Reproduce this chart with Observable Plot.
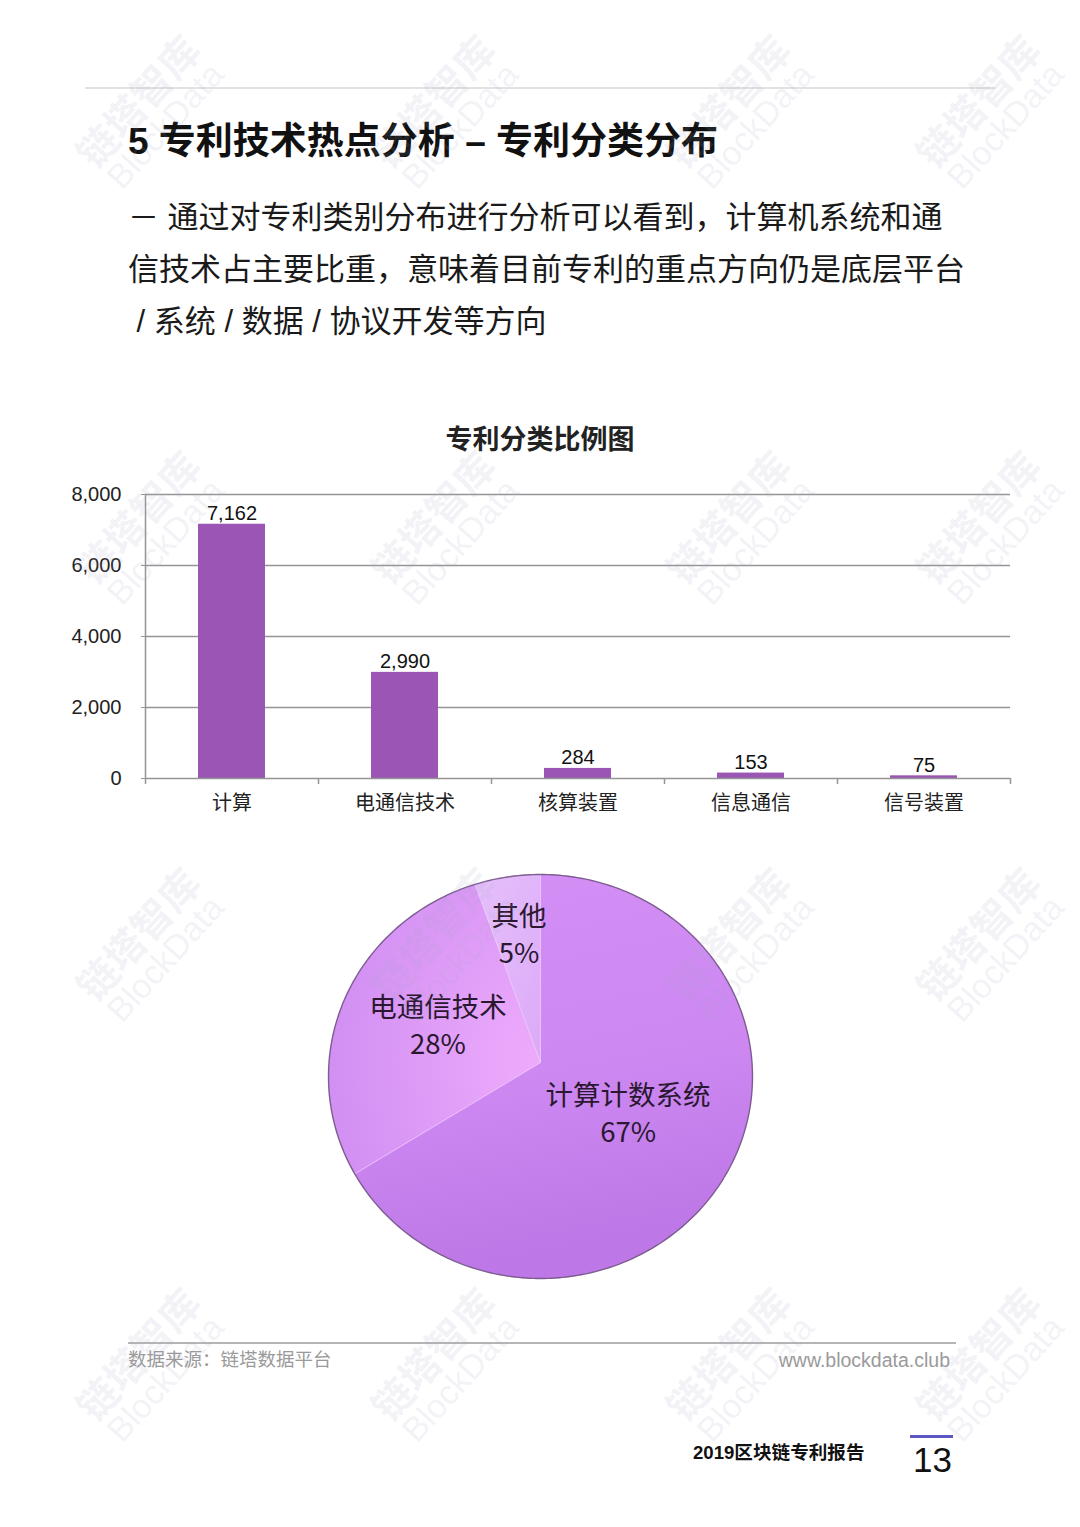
<!DOCTYPE html>
<html>
<head>
<meta charset="utf-8">
<script src="https://cdn.jsdelivr.net/npm/d3@7"></script>
<script src="https://cdn.jsdelivr.net/npm/@observablehq/plot@0.6"></script>
<style>
  html, body { margin: 0; padding: 0; background: #fff; }
  body { width: 1080px; height: 1527px; position: relative; overflow: hidden;
         font-family: "Liberation Sans", "Noto Sans CJK SC", sans-serif; color: #111; }
  .abs { position: absolute; white-space: nowrap; }
  #topline { left: 85px; top: 87px; width: 910px; height: 2px; background: #e2e2e2; }
  #title { left: 128px; top: 123px; font-size: 37px; line-height: 37px; font-weight: 700; color: #111; }
  .sub { left: 128px; font-size: 31px; line-height: 52px; color: #1a1a1a; }
  #ctitle { left: 0; width: 1080px; text-align: center; top: 426px; font-size: 27px; line-height: 28px; font-weight: 700; color: #222; }
  #bars { left: 0; top: 470px; }
  #pie { left: 0; top: 850px; }
  #footline { left: 128px; top: 1342px; width: 828px; height: 1.5px; background: #b5b5b5; }
  #source { left: 128px; top: 1348px; font-size: 18.5px; line-height: 24px; color: #9a9a9a; }
  #site { right: 130px; top: 1348px; font-size: 19.5px; line-height: 24px; color: #9a9a9a; }
  #report { left: 693px; top: 1441px; font-size: 18.6px; line-height: 24px; font-weight: 700; color: #111; }
  #pageline { left: 910px; top: 1435px; width: 43px; height: 3px; background: #5b58c4; }
  #pagenum { left: 913px; top: 1441px; font-size: 35px; line-height: 38px; color: #111; font-family: "Liberation Sans", sans-serif; }
  .wm { position: absolute; transform: translate(-50%, -50%) rotate(-48deg); text-align: center;
        color: rgba(160,165,195,0.15); font-weight: 700; line-height: 1.05; pointer-events: none; white-space: nowrap; }
  .wm .a { font-size: 40px; font-family: "Noto Sans CJK SC", sans-serif; }
  .wm .b { font-size: 34px; font-weight: 400; }
</style>
</head>
<body>
<div id="topline" class="abs"></div>
<div id="title" class="abs">5 专利技术热点分析 – 专利分类分布</div>
<div class="abs sub" style="top:192px">－ 通过对专利类别分布进行分析可以看到，计算机系统和通</div>
<div class="abs sub" style="top:244px">信技术占主要比重，意味着目前专利的重点方向仍是底层平台</div>
<div class="abs sub" style="top:296px">&nbsp;/ 系统 / 数据 / 协议开发等方向</div>
<div id="ctitle" class="abs">专利分类比例图</div>
<div id="bars" class="abs"></div>
<div id="pie" class="abs"></div>
<div id="footline" class="abs"></div>
<div id="source" class="abs">数据来源：链塔数据平台</div>
<div id="site" class="abs">www.blockdata.club</div>
<div id="report" class="abs">2019区块链专利报告</div>
<div id="pageline" class="abs"></div>
<div id="pagenum" class="abs">13</div>
<div id="wms"></div>
<script>
// ---- data ----
const categories = ["计算", "电通信技术", "核算装置", "信息通信", "信号装置"];
const counts = [7162, 2990, 284, 153, 75];
const yTicks = [0, 2000, 4000, 6000, 8000];
const pieLabels = ["计算计数系统", "电通信技术", "其他"];
const pieShares = [67, 28, 5];

const FONT = '"Liberation Sans", "Noto Sans CJK SC", sans-serif';

// ---- bar chart ----
const barData = categories.map((c, i) => ({cat: c, value: counts[i]}));
const plotLeft = 145, plotRight = 1010;
const step = (plotRight - plotLeft) / categories.length;
const grey = "#959595";

const bars = Plot.plot({
  width: 1080, height: 364,
  marginLeft: plotLeft, marginRight: 1080 - plotRight, marginTop: 24, marginBottom: 56,
  style: {fontFamily: FONT, fontSize: "20px", color: "#111", background: "transparent", overflow: "visible"},
  x: {domain: categories, paddingInner: 0.61, paddingOuter: 0.305, label: null},
  y: {domain: [0, 8000], label: null},
  marks: [
    Plot.ruleY(yTicks.filter(t => t > 0), {stroke: grey, strokeWidth: 1.3}),
    Plot.barY(barData, {x: "cat", y: "value", fill: "#9b55b4"}),
    Plot.ruleY([0], {stroke: grey, strokeWidth: 1.5}),
    Plot.ruleX([categories[0]], {y1: 0, y2: 8000, dx: -step / 2, stroke: grey, strokeWidth: 1.5}),
    Plot.ruleX(categories, {y1: 0, y2: 0, dx: -step / 2, insetBottom: -6, stroke: grey, strokeWidth: 1.5}),
    Plot.ruleX([categories[categories.length - 1]], {y1: 0, y2: 0, dx: step / 2, insetBottom: -6, stroke: grey, strokeWidth: 1.5}),
    Plot.text(barData, {x: "cat", y: "value", text: d => d3.format(",")(d.value), lineAnchor: "bottom", dy: -4, fontSize: 20, fill: "#111"}),
    Plot.axisX({tickSize: 0, tickPadding: 17, fontSize: 20, fill: "#222"}),
    Plot.axisY({ticks: yTicks, tickSize: 4, tickPadding: 20, tickFormat: d3.format(","), fontSize: 20, stroke: grey, fill: "#222"})
  ]
});
document.getElementById("bars").append(bars);

// ---- pie chart ----
const arcs = d3.pie().sort(null).value(d => d)(pieShares);
const vertexY = 0.069; // slice vertex sits slightly above the ellipse centre (tilted look)
const labelRadii = [0.48, 0.52, 0.65];
function slicePoints(a, key) {
  const pts = [{x: 0, y: vertexY, key}];
  const n = Math.max(4, Math.ceil((a.endAngle - a.startAngle) / 0.02));
  for (let k = 0; k <= n; k++) {
    const t = a.startAngle + (a.endAngle - a.startAngle) * k / n;
    pts.push({x: Math.sin(t), y: Math.cos(t), key});
  }
  pts.push({x: 0, y: vertexY, key});
  return pts;
}
const outline = d3.range(0, 361).map(d => ({x: Math.sin(d * Math.PI / 180), y: Math.cos(d * Math.PI / 180)}));
const labelData = arcs.map((a, i) => {
  const m = (a.startAngle + a.endAngle) / 2;
  return {x: Math.sin(m) * labelRadii[i], y: vertexY + Math.cos(m) * labelRadii[i], text: `${pieLabels[i]}\n${pieShares[i]}%`};
});
const gradIds = ["pg0", "pg1", "pg2"];

const pie = Plot.plot({
  width: 1080, height: 450,
  marginLeft: 328, marginRight: 328, marginTop: 24, marginBottom: 22,
  style: {fontFamily: FONT, background: "transparent", overflow: "visible"},
  x: {domain: [-1, 1], axis: null},
  y: {domain: [-1, 1], axis: null},
  marks: [
    ...arcs.map((a, i) => Plot.line(slicePoints(a, pieLabels[i]), {x: "x", y: "y", fill: `url(#${gradIds[i]})`, stroke: "#ecc8fb", strokeWidth: 1, strokeOpacity: 0.6})),
    Plot.line(outline, {x: "x", y: "y", stroke: "#6a4a7e", strokeWidth: 1.4, strokeOpacity: 0.85}),
    Plot.text(labelData, {x: "x", y: "y", text: "text", fontSize: 27.5, lineHeight: 1.35, fill: "#2a1830", fontFamily: '"Noto Sans CJK SC", sans-serif'})
  ]
});
const NS = "http://www.w3.org/2000/svg";
const defs = document.createElementNS(NS, "defs");
function grad(id, type, attrs, stops) {
  const g = document.createElementNS(NS, type);
  g.setAttribute("id", id);
  for (const [k, v] of Object.entries(attrs)) g.setAttribute(k, v);
  for (const [o, c] of stops) {
    const s = document.createElementNS(NS, "stop");
    s.setAttribute("offset", o); s.setAttribute("stop-color", c);
    g.append(s);
  }
  defs.append(g);
}
grad("pg0", "linearGradient", {x1: 0, y1: 0, x2: 0.2, y2: 1}, [["0", "#d590f6"], ["0.6", "#cc87f1"], ["1", "#bd77e6"]]);
grad("pg1", "radialGradient", {cx: 0.98, cy: 0.62, r: 0.95}, [["0", "#eeabfc"], ["1", "#d290f3"]]);
grad("pg2", "linearGradient", {x1: 0, y1: 0, x2: 1, y2: 1}, [["0", "#e6c0fb"], ["1", "#dcaaf8"]]);
pie.prepend(defs);
document.getElementById("pie").append(pie);

// ---- watermarks ----
const wmCols = [150, 445, 740, 990];
const wmRows = [112, 528, 945, 1365];
const wms = document.getElementById("wms");
for (const y of wmRows) for (const x of wmCols) {
  const d = document.createElement("div");
  d.className = "wm";
  d.style.left = x + "px"; d.style.top = y + "px";
  d.innerHTML = '<div class="a">链塔智库</div><div class="b">BlockData</div>';
  wms.append(d);
}
</script>
</body>
</html>
